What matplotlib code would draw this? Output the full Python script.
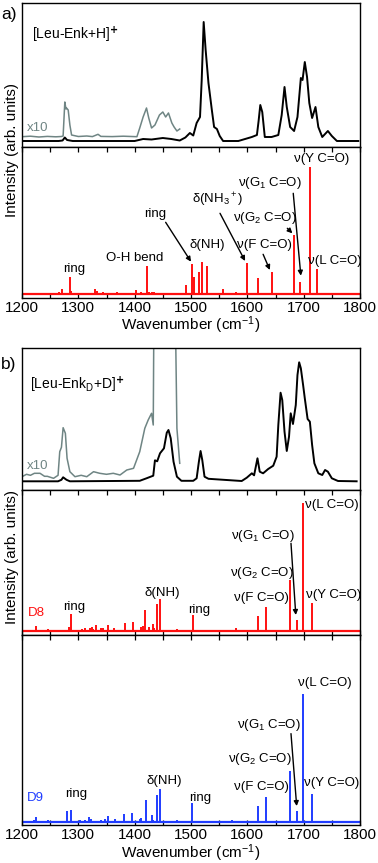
import matplotlib
matplotlib.use("Agg")
import matplotlib.pyplot as plt
import numpy as np

plt.rcParams['font.family'] = ['Liberation Sans', 'DejaVu Sans']
plt.rcParams['mathtext.fontset'] = 'custom'
plt.rcParams['mathtext.rm'] = 'Liberation Sans'
plt.rcParams['mathtext.it'] = 'Liberation Sans:italic'

# ---- data ----
# panel a, experimental (black) and x10 trace (gray)
a_exp_wn = [1200, 1265, 1272, 1276, 1280, 1290, 1400, 1415, 1430, 1450, 1465, 1480, 1490, 1498,
            1504, 1510, 1516, 1519, 1522.5, 1526, 1531, 1537, 1541, 1546, 1551, 1557, 1584, 1608,
            1617, 1620, 1623, 1626.5, 1631, 1643, 1655, 1661, 1666, 1670, 1676, 1683, 1689, 1695,
            1698, 1702, 1706, 1710, 1715, 1721, 1726, 1733, 1743, 1750, 1759, 1797]
a_exp_int = [0, 0, 0.5, 3.5, 1, 0, 0, 2, 1.5, 3, 2, 0.5, 3.5, 8,
             5.5, 18, 24, 61, 119, 91, 58, 31, 14, 12, 5, 0, 0, 4,
             6, 20, 36, 29, 4, 4, 6, 26, 54, 34, 14, 10, 24, 63,
             61, 79, 64, 38, 23, 34, 14, 4, 10, 5, 0, 0]
a_x10_wn = [1200, 1215, 1230, 1245, 1260, 1270, 1273, 1276, 1278, 1279, 1282, 1285, 1288, 1300,
            1315, 1325, 1335, 1340, 1360, 1380, 1404, 1409, 1415, 1421, 1425, 1430, 1436, 1444,
            1450, 1455, 1460, 1466, 1470, 1475, 1480]
a_x10_int = [4.3, 4.8, 4.0, 4.6, 4.2, 4.5, 5, 39, 32, 33, 31, 16, 6, 4.5,
             5, 4.4, 6.7, 4.6, 4.4, 4.8, 4.3, 13, 24, 33, 23, 13, 16, 26,
             29, 24, 28, 18, 14, 10, 12]

# panel a, calculated sticks
a_calc_wn = [1205, 1212, 1222, 1228, 1233, 1245, 1255, 1262, 1266, 1271, 1285, 1287, 1298, 1305,
             1312, 1318, 1325, 1330, 1333, 1338, 1344, 1352, 1368, 1385, 1403, 1408, 1412, 1416,
             1421.7, 1426, 1430, 1434, 1474, 1491, 1502, 1505, 1515, 1520, 1528, 1557, 1579, 1582,
             1600, 1619, 1644, 1682, 1693, 1712, 1723]
a_calc_int = [0.7, 0.6, 0.8, 0.7, 0.9, 0.5, 1, 1.3, 2.7, 5.3, 17, 3.3, 1.3, 1,
              0.8, 0.7, 1, 5, 3.3, 1, 2.7, 1, 2.7, 1, 4.3, 1.5, 2.7, 1.5,
              28.3, 2.5, 2.7, 2, 1.3, 9, 30.3, 17, 22.7, 32.3, 28, 5.7, 2.3, 1,
              31.7, 16.3, 22, 59.3, 12.3, 127.7, 25.3]

# panel b, experimental (black) and x10 trace (gray)
b_exp_wn = [1200, 1264, 1270, 1273, 1279, 1285, 1409, 1421, 1433, 1436, 1440, 1445, 1452, 1457,
            1460, 1464, 1469, 1475, 1483, 1504, 1510, 1514, 1517, 1520, 1524, 1531, 1590, 1599,
            1608, 1612, 1618, 1622, 1628, 1637, 1646, 1652, 1655, 1659, 1662, 1666, 1670, 1674,
            1677, 1681, 1686, 1689, 1692, 1695, 1699, 1702, 1707, 1711, 1715, 1719, 1726, 1733,
            1738, 1743, 1750, 1761, 1794]
b_exp_int = [0, 0, 1.5, 4, 1.5, 0, 0.5, 3, 5.6, 21, 20, 28, 33, 48.6,
             51.3, 43, 19.6, 4.6, 0.5, 0.5, 3, 19.6, 30.3, 21.3, 4.6, 2.5, 0.3, 3.6,
             8, 6, 23, 9.6, 8, 12.3, 15.6, 24.6, 56.3, 88.6, 81.3, 49.6, 30.3, 44.6,
             68, 57.3, 76.3, 106.3, 119, 113, 96.3, 83, 62.3, 59.6, 36.3, 18, 8, 6.3,
             11.3, 9.6, 3, 0.3, 0]
b_x10_wn = [1200, 1208, 1215, 1222, 1232, 1240, 1245, 1256, 1264, 1267, 1270, 1273, 1277, 1280,
            1285, 1294, 1305, 1315, 1327, 1338, 1350, 1362, 1374, 1386, 1398, 1409, 1418, 1424,
            1430, 1433, 1435.5, 1469, 1475, 1480]
b_x10_int = [4.6, 7, 6, 8, 8, 5, 5, 3, 6, 29.6, 34, 53.6, 48, 23,
             9.6, 4.6, 6, 4.6, 9.6, 8, 7, 8, 6.3, 11.3, 13, 29.6, 53, 61.3,
             68, 56.3, 300, 300, 53, 18]

# panel b, calculated D8 (red) and D9 (blue)
d8_wn = [1220, 1225, 1228, 1247, 1284, 1286.4, 1306, 1312, 1320, 1324, 1326, 1331, 1341, 1344,
         1353, 1364, 1382, 1396.5, 1411, 1414, 1419, 1425, 1432, 1435, 1439, 1445, 1474.5, 1504,
         1579, 1581, 1604, 1619.5, 1633, 1676, 1687.6, 1699.4, 1715.4]
d8_int = [1.5, 5, 1.5, 1.7, 3.7, 17, 2, 2.7, 3.3, 3.7, 2.5, 5.7, 2.7, 2.7,
          5.7, 2.7, 7.7, 8.7, 3.7, 5, 21, 4.3, 7, 2.7, 27, 32, 1.7, 16,
          2.7, 1.3, 1, 15, 24, 50.7, 10.7, 128.3, 28]
d9_wn = [1222, 1225, 1247, 1279, 1287, 1303, 1312, 1319.5, 1323, 1341, 1347, 1353, 1365, 1381.6,
         1396, 1409, 1412, 1419.5, 1430, 1433, 1439.6, 1445, 1474.5, 1502, 1572, 1580, 1619,
         1632.5, 1675, 1687.6, 1698.8, 1714.8]
d9_int = [1.5, 5, 1.7, 10.3, 11.3, 1.7, 1.7, 4.3, 3, 1.7, 3, 5.7, 2.3, 7.3,
          8.3, 3, 4, 21.7, 6.7, 2, 27, 32.3, 1.7, 18.7, 1.7, 1, 16,
          24.3, 51, 10.3, 128, 28]

ticks = [1200, 1300, 1400, 1500, 1600, 1700, 1800]
minor = [1250, 1350, 1450, 1550, 1650, 1750]

gray = '#6f8584'
red = '#ff1010'
blue = '#1f3cff'
fs = 9.5

fig = plt.figure(figsize=(3.78, 8.63), dpi=100)
H = 863.0
L, W = 22 / 378, 338 / 378


def mk(top, bot):
    return fig.add_axes([L, 1 - bot / H, W, (bot - top) / H])


def frame(ax, top_ticks=False, labels=False):
    ax.set_xlim(1200, 1800)
    ax.set_yticks([])
    for s in ax.spines.values():
        s.set_linewidth(1.0)
    if top_ticks:
        ax.set_xticks(ticks)
        ax.set_xticks(minor, minor=True)
        ax.tick_params(axis='x', which='both', direction='in', top=True, bottom=True,
                       length=3.5, width=0.9, labelsize=11, pad=2)
        if not labels:
            ax.set_xticklabels([])
    else:
        ax.set_xticks([])


def stick(ax, wn, inten, c):
    ax.vlines(wn, 0, inten, color=c, lw=1.4)
    ax.axhline(0, color=c, lw=1.6)


def arrow(ax, tail, tip):
    ax.annotate('', xy=tip, xytext=tail,
                arrowprops=dict(arrowstyle='-|>', color='k', lw=1.0, mutation_scale=7,
                                shrinkA=0, shrinkB=0))


# ---------- panel a ----------
ax1 = mk(3, 147)
frame(ax1)
ax1.set_ylim(-6, 138)
ax1.plot(a_x10_wn, a_x10_int, color=gray, lw=1.1)
ax1.plot(a_exp_wn, a_exp_int, color='k', lw=1.4)
ax1.text(1209, 13.3, 'x10', color=gray, fontsize=fs, va='center', ha='left')
ax1.text(1217.8, 106, '[Leu-Enk+H]$^{\\mathbf{+}}$', fontsize=10, va='center', ha='left')

ax2 = mk(147, 298)
frame(ax2, top_ticks=True, labels=True)
ax2.set_ylim(-3.7, 147.3)
stick(ax2, a_calc_wn, a_calc_int, red)
ax2.text(1292, 25, 'ring', fontsize=fs, ha='center', va='center')
ax2.text(1400.6, 36, 'O-H bend', fontsize=fs, ha='center', va='center')
ax2.text(1436, 80.6, 'ring', fontsize=fs, ha='center', va='center')
arrow(ax2, (1455, 72), (1500, 32.6))
ax2.text(1529, 49.3, 'δ(NH)', fontsize=fs, ha='center', va='center')
ax2.text(1548, 94, 'δ(NH$_3$$^+$)', fontsize=fs, ha='center', va='center')
arrow(ax2, (1551.5, 81), (1596, 33.3))
ax2.text(1631, 49.3, 'ν(F C=O)', fontsize=fs, ha='center', va='center')
arrow(ax2, (1628, 40), (1640, 24.3))
ax2.text(1631, 76, 'ν(G$_2$ C=O)', fontsize=fs, ha='center', va='center')
arrow(ax2, (1671, 66), (1680, 61))
ax2.text(1640, 111.6, 'ν(G$_1$ C=O)', fontsize=fs, ha='center', va='center')
arrow(ax2, (1681.5, 101), (1695, 18.6))
ax2.text(1732, 135.3, 'ν(Y C=O)', fontsize=fs, ha='center', va='center')
ax2.text(1756, 33.3, 'ν(L C=O)', fontsize=fs, ha='center', va='center')

fig.text(0.5 * (22 + 360) / 378, 1 - 325 / H, 'Wavenumber (cm$^{-1}$)', fontsize=11,
         ha='center', va='center')

# ---------- panel b ----------
ax3 = mk(348, 490)
frame(ax3)
ax3.set_ylim(-8.7, 133.3)
ax3.plot(b_x10_wn, b_x10_int, color=gray, lw=1.1)
ax3.plot(b_exp_wn, b_exp_int, color='k', lw=1.4)
ax3.text(1209, 15.3, 'x10', color=gray, fontsize=fs, va='center', ha='left')
ax3.text(1214, 96.3, '[Leu-Enk$_\\mathrm{D}$+D]$^{\\mathbf{+}}$', fontsize=10, va='center', ha='left')

ax4 = mk(490, 635)
frame(ax4, top_ticks=True)
ax4.set_ylim(-4, 141)
stick(ax4, d8_wn, d8_int, red)
ax4.text(1210.6, 18, 'D8', color=red, fontsize=fs, ha='left', va='center')
ax4.text(1292, 24.3, 'ring', fontsize=fs, ha='center', va='center')
ax4.text(1449.7, 37.7, 'δ(NH)', fontsize=fs, ha='center', va='center')
ax4.text(1514, 21, 'ring', fontsize=fs, ha='center', va='center')
ax4.text(1625.5, 32.7, 'ν(F C=O)', fontsize=fs, ha='center', va='center')
ax4.text(1752.6, 36, 'ν(Y C=O)', fontsize=fs, ha='center', va='center')
ax4.text(1625.5, 58.3, 'ν(G$_2$ C=O)', fontsize=fs, ha='center', va='center')
ax4.text(1628, 95, 'ν(G$_1$ C=O)', fontsize=fs, ha='center', va='center')
arrow(ax4, (1677.5, 87.7), (1686, 16))
ax4.text(1749.7, 126, 'ν(L C=O)', fontsize=fs, ha='center', va='center')

ax5 = mk(635, 825)
frame(ax5, top_ticks=True, labels=True)
ax5.set_ylim(-3.4, 187.3)
stick(ax5, d9_wn, d9_int, blue)
ax5.text(1209.4, 24, 'D9', color=blue, fontsize=fs, ha='left', va='center')
ax5.text(1296, 27.3, 'ring', fontsize=fs, ha='center', va='center')
ax5.text(1452, 40.6, 'δ(NH)', fontsize=fs, ha='center', va='center')
ax5.text(1517, 24, 'ring', fontsize=fs, ha='center', va='center')
ax5.text(1625.5, 35, 'ν(F C=O)', fontsize=fs, ha='center', va='center')
ax5.text(1622.5, 63, 'ν(G$_2$ C=O)', fontsize=fs, ha='center', va='center')
ax5.text(1749.7, 38.3, 'ν(Y C=O)', fontsize=fs, ha='center', va='center')
ax5.text(1639, 97.3, 'ν(G$_1$ C=O)', fontsize=fs, ha='center', va='center')
arrow(ax5, (1677.5, 88.3), (1687.6, 15.6))
ax5.text(1738, 139, 'ν(L C=O)', fontsize=fs, ha='center', va='center')

fig.text(0.5 * (22 + 360) / 378, 1 - 853 / H, 'Wavenumber (cm$^{-1}$)', fontsize=11,
         ha='center', va='center')

# y labels and panel tags
fig.text(12 / 378, 1 - 150 / H, 'Intensity (arb. units)', rotation=90, fontsize=11,
         ha='center', va='center')
fig.text(12 / 378, 1 - 557 / H, 'Intensity (arb. units)', rotation=90, fontsize=11,
         ha='center', va='center')
fig.text(1 / 378, 1 - 15 / H, 'a)', fontsize=12.5, ha='left', va='center')
fig.text(1 / 378, 1 - 364 / H, 'b)', fontsize=12.5, ha='left', va='center')

fig.savefig('out.png', dpi=100)
